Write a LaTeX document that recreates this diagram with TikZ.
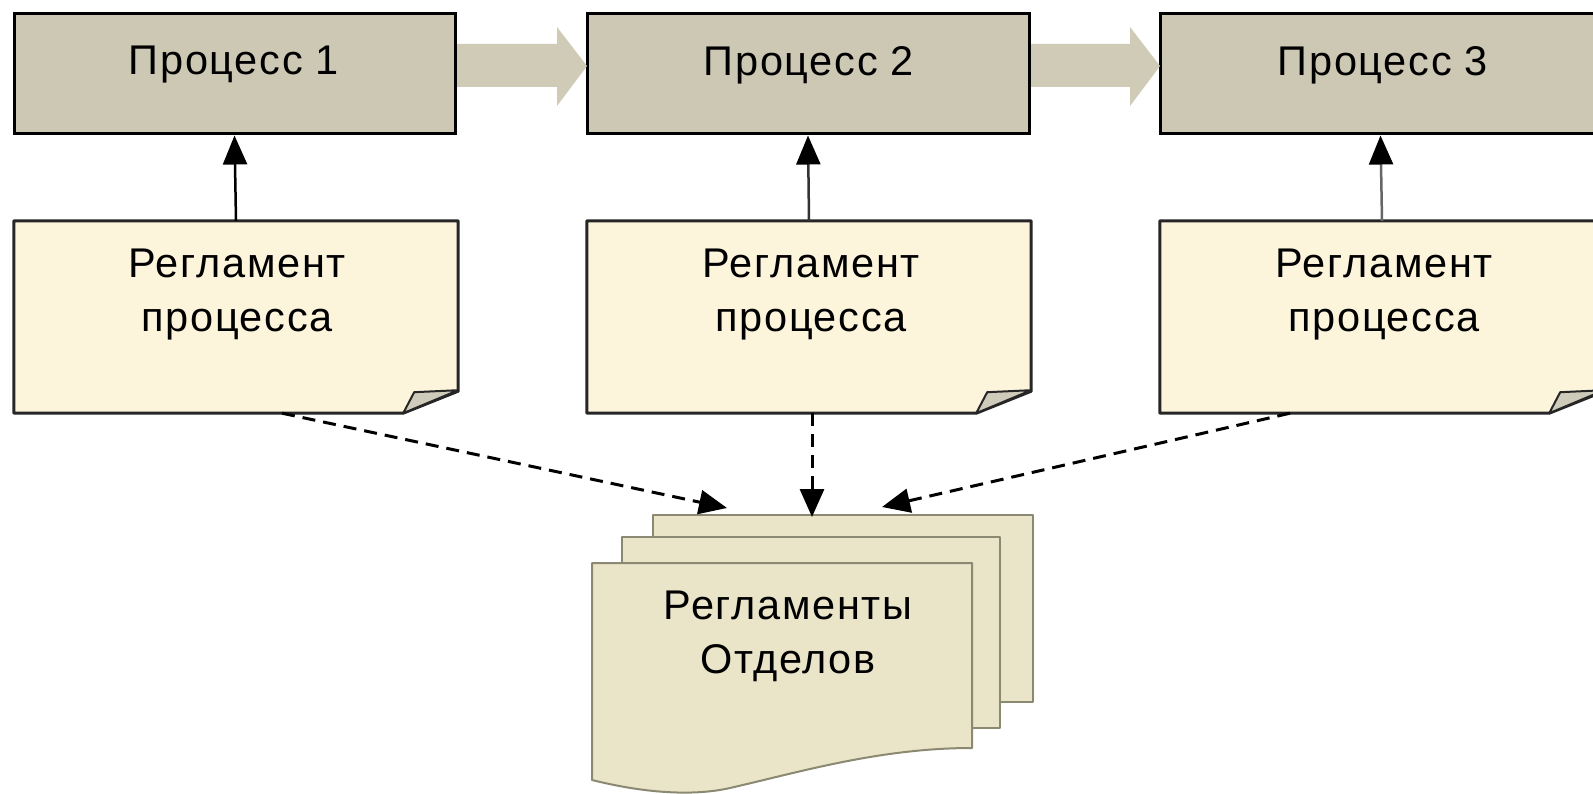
\documentclass[tikz,border=0pt]{standalone}
\usepackage{fontspec}
\setmainfont[LetterSpace=4]{Liberation Sans}
\usetikzlibrary{arrows.meta}
\definecolor{procfill}{HTML}{CCC8B3}
\definecolor{arrowfill}{HTML}{CFCBB7}
\definecolor{docfill}{HTML}{FCF4DB}
\definecolor{flapfill}{HTML}{CFCBBA}
\definecolor{stackfill}{HTML}{EAE5C9}
\definecolor{stackline}{HTML}{8C8972}
\newcommand{\drawdoc}[1]{%
  \filldraw[docline, fill=docfill] (#1.north west) -- (#1.north east) -- ([yshift=22pt]#1.south east) -- ([xshift=-55pt]#1.south east) -- (#1.south west) -- cycle;
  \filldraw[docline, line width=2pt, fill=flapfill] ([xshift=-55pt]#1.south east) -- ([xshift=-44pt,yshift=21pt]#1.south east) -- ([yshift=23pt]#1.south east) -- cycle;
}
\begin{document}
\begin{tikzpicture}[x=1pt,y=-1pt,
  font=\fontsize{41.5}{54}\selectfont,
  procbox/.style={draw=black, line width=3pt, fill=procfill, minimum width=441pt, minimum height=120pt, inner sep=0pt},
  docbox/.style={minimum width=444pt, minimum height=192pt, inner sep=0pt},
  docline/.style={draw=black!85, line width=3pt, line join=round},
  label/.style={align=center, inner sep=0pt},
  uparrow/.style={line width=2.5pt, -{Triangle[width=24pt,length=29pt,black]}},
  dasharrow/.style={line width=3pt, black, dash pattern=on 13pt off 8pt, -{Triangle[width=24pt,length=28pt]}},
  blockarrow/.style={fill=arrowfill, draw=none},
  sheet/.style={draw=stackline, line width=2pt, fill=stackfill, line join=round}]
\useasboundingbox (0,0) rectangle (1593,794);
\clip (0,0) rectangle (1593,794);
\fill[white] (0,0) rectangle (1593,794);

% process boxes
\node[procbox] (p1) at (234.5,74) {};
\node[procbox, minimum width=442pt] (p2) at (808,74) {};
\node[procbox] (p3) at (1380.5,74) {};
\node[label] (p1t) at (234,65) {Процесс 1};
\node[label] (p2t) at (809,65) {Процесс 2};
\node[label] (p3t) at (1383,65) {Процесс 3};

% block arrows between processes
\fill[blockarrow] (457,44) -- (557,44) -- (557,27) -- (587,66) -- (557,106) -- (557,87) -- (457,87) -- cycle;
\fill[blockarrow] (1031,44) -- (1130,44) -- (1130,27) -- (1160,66) -- (1130,106) -- (1130,87) -- (1031,87) -- cycle;

% documents
\node[docbox] (d1) at (236,317) {};
\node[docbox] (d2) at (809,317) {};
\node[docbox] (d3) at (1382,317) {};
\drawdoc{d1}
\drawdoc{d2}
\drawdoc{d3}
\node[label] (d1t) at (237,295) {Регламент\\процесса};
\node[label] (d2t) at (811,295) {Регламент\\процесса};
\node[label] (d3t) at (1384,295) {Регламент\\процесса};

% up arrows
\draw[uparrow, black] (d1.north) -- (p1.south);
\draw[uparrow, black!80] (d2.north) -- (p2.south);
\draw[uparrow, black!60] (d3.north) -- (p3.south);

% stacked documents
\filldraw[sheet] (653,515) rectangle (1033,702);
\filldraw[sheet] (622,537) rectangle (1000,728);
\filldraw[sheet] (592,563) -- (972,563) -- (972,748) .. controls (880,748) and (800,772) .. (730,788) .. controls (690,797) and (640,792) .. (592,780) -- cycle;
\node[label] (rs) at (788,636) {Регламенты\\Отделов};

% dashed arrows
\coordinate (t1) at (727,508);
\coordinate (t2) at (812,517);
\coordinate (t3) at (882,507);
\draw[dasharrow] ([xshift=46pt]d1.south) -- (t1);
\draw[dasharrow] ([xshift=3pt]d2.south) -- (t2);
\draw[dasharrow] ([xshift=-92pt]d3.south) -- (t3);
\end{tikzpicture}
\end{document}
